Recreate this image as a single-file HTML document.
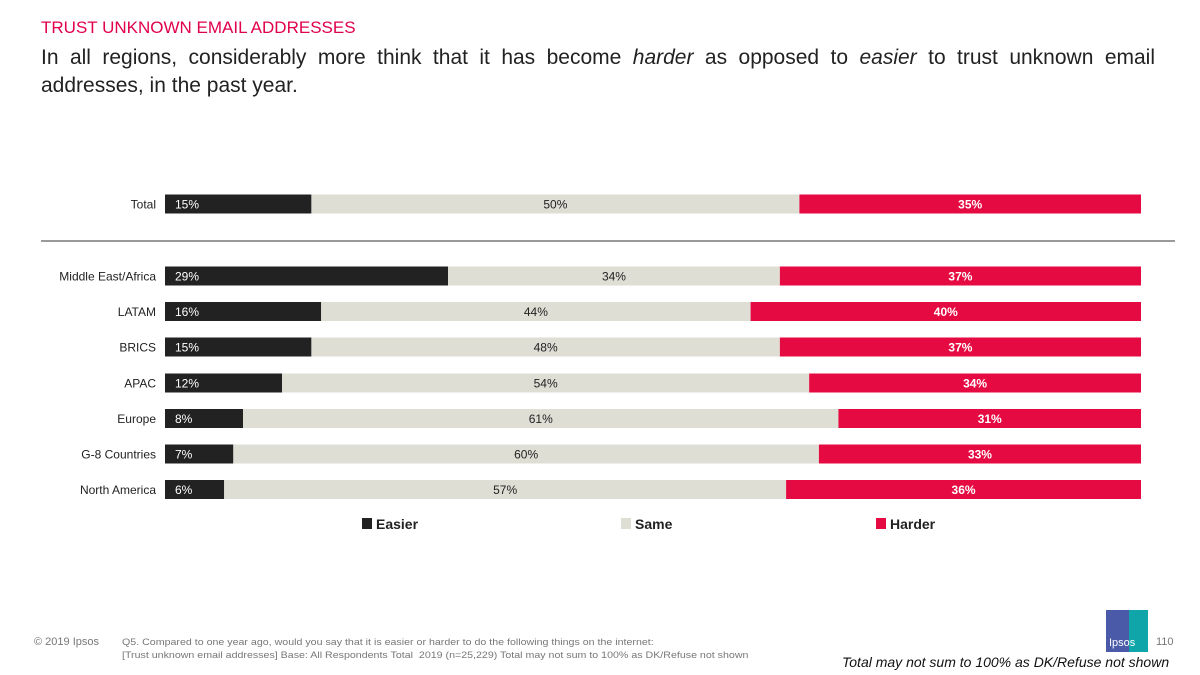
<!DOCTYPE html>
<html><head><meta charset="utf-8"><style>
body{margin:0;width:1200px;height:675px;background:#fff;font-family:"Liberation Sans",sans-serif;overflow:hidden;position:relative}
.t{position:absolute}
</style></head><body>
<div class="t" style="left:41px;top:18px;font-size:17px;color:#e0004d">TRUST UNKNOWN EMAIL ADDRESSES</div>
<div class="t" style="left:41px;top:44px;width:1114px;font-size:21px;line-height:28px;color:#222">
<div style="text-align:justify;text-align-last:justify">In all regions, considerably more think that it has become <i>harder</i> as opposed to <i>easier</i> to trust unknown email</div>
<div>addresses, in the past year.</div>
</div>
<svg id="chart" width="1200" height="675" style="position:absolute;left:0;top:0">
<line x1="41" y1="241" x2="1175" y2="241" stroke="#333" stroke-width="1"/>
</svg>
<div class="t" style="left:34px;top:636px;font-size:11px;color:#777">© 2019 Ipsos</div>
<div class="t" style="left:122px;top:636px;font-size:9.5px;line-height:13px;color:#777;white-space:nowrap;transform:scaleX(1.12);transform-origin:left">Q5. Compared to one year ago, would you say that it is easier or harder to do the following things on the internet:<br>[Trust unknown email addresses] Base: All Respondents Total&nbsp; 2019 (n=25,229) Total may not sum to 100% as DK/Refuse not shown</div>
<div class="t" style="left:1106px;top:610px;width:42px;height:42px;background:linear-gradient(90deg,#4a5aa8 55%,#10a5a8 55%)"><span style="position:absolute;left:3px;top:27px;color:#fff;font-size:11px">Ipsos</span></div>
<div class="t" style="left:1156px;top:636px;font-size:11px;color:#777">110</div>
<div class="t" style="left:842px;top:654px;font-size:14px;font-style:italic;color:#111;white-space:nowrap">Total may not sum to 100% as DK/Refuse not shown</div>
<script>
const categories=["Total","Middle East/Africa","LATAM","BRICS","APAC","Europe","G-8 Countries","North America"];
const easier=[15,29,16,15,12,8,7,6];
const same=[50,34,44,48,54,61,60,57];
const harder=[35,37,40,37,34,31,33,36];
const seriesNames=["Easier","Same","Harder"];
const colors=["#222222","#deded4","#e60a42"];
const svg=document.getElementById('chart');
const NS='http://www.w3.org/2000/svg';
const x0=165,W=976;
const rowY=[204,276,311.5,347,383,418.5,454,489.5];
function el(t,a){const e=document.createElementNS(NS,t);for(const k in a)e.setAttribute(k,a[k]);svg.appendChild(e);return e;}
categories.forEach((c,i)=>{
  const vals=[easier[i],same[i],harder[i]];
  const tot=vals.reduce((a,b)=>a+b,0);
  let x=x0;const y=rowY[i];
  const lb=el('text',{x:156,y:y+4.5,'text-anchor':'end','font-size':12,fill:'#222'});
  lb.textContent=c;
  
  
  vals.forEach((v,s)=>{
    const w=v/tot*W;
    const r=el('rect',{x:x,y:y-9.5,width:w,height:19,fill:colors[s]});
    
    
    const tx=s==0?x+10:x+w/2;
    const t=el('text',{x:tx,y:y+4.5,'text-anchor':s==0?'start':'middle','font-size':12,fill:s==1?'#222':'#fff','font-weight':s==2?'bold':'normal'});
    t.textContent=v+'%';
    
    
    x+=w;
  });
});
const legX=[362,621,876];
seriesNames.forEach((n,s)=>{
  const r=el('rect',{x:legX[s],y:518,width:10,height:11,fill:colors[s]});
  
  
  const t=el('text',{x:legX[s]+14,y:529,'font-size':14,'font-weight':'bold',fill:'#222'});
  t.textContent=n;
  
  
});
</script>
</body></html>
